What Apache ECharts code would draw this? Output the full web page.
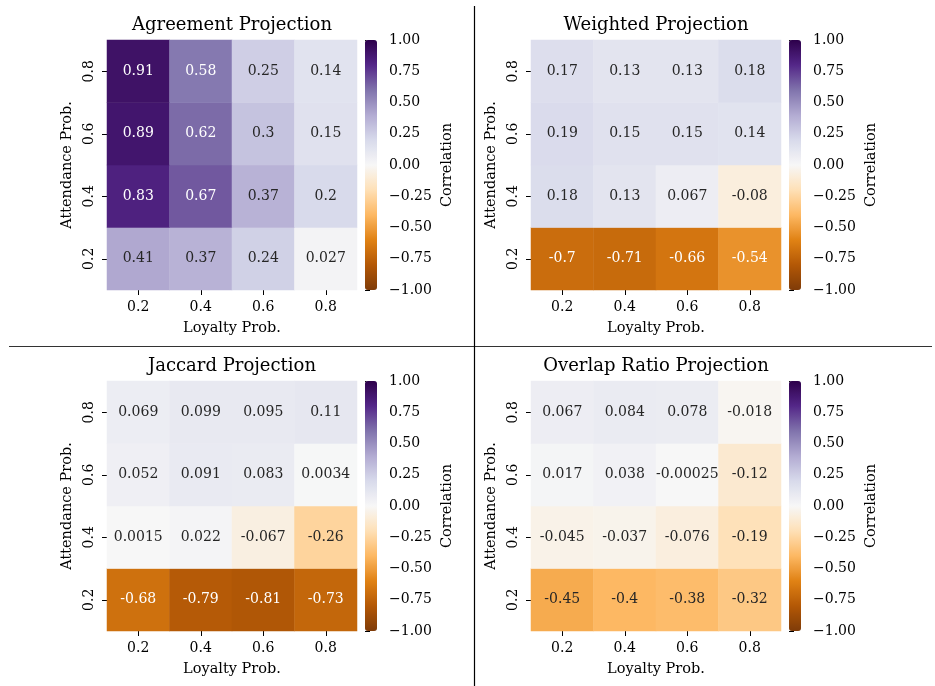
<!DOCTYPE html>
<html>
<head>
<meta charset="utf-8">
<script src="https://cdn.jsdelivr.net/npm/echarts@6/dist/echarts.min.js"></script>
<style>
  html, body { margin: 0; padding: 0; background: #fff; }
  #chart { width: 935px; height: 686px; }
</style>
</head>
<body>
<div id="chart"></div>
<script>
// Category labels
const loyalty = ['0.2', '0.4', '0.6', '0.8'];
const attendance = ['0.2', '0.4', '0.6', '0.8'];

// Correlations: one row per attendance probability (0.2 first), one column per loyalty probability
const agreement = [
  [0.41, 0.37, 0.24, 0.027],
  [0.83, 0.67, 0.37, 0.2],
  [0.89, 0.62, 0.3, 0.15],
  [0.91, 0.58, 0.25, 0.14]
];
const weighted = [
  [-0.7, -0.71, -0.66, -0.54],
  [0.18, 0.13, 0.067, -0.08],
  [0.19, 0.15, 0.15, 0.14],
  [0.17, 0.13, 0.13, 0.18]
];
const jaccard = [
  [-0.68, -0.79, -0.81, -0.73],
  [0.0015, 0.022, -0.067, -0.26],
  [0.052, 0.091, 0.083, 0.0034],
  [0.069, 0.099, 0.095, 0.11]
];
const overlap = [
  [-0.45, -0.4, -0.38, -0.32],
  [-0.045, -0.037, -0.076, -0.19],
  [0.017, 0.038, -0.00025, -0.12],
  [0.067, 0.084, 0.078, -0.018]
];

const titles = ['Agreement Projection', 'Weighted Projection', 'Jaccard Projection', 'Overlap Ratio Projection'];
const matrices = [agreement, weighted, jaccard, overlap];

// PuOr diverging palette, -1 (brown) to +1 (purple)
const puor = ['#7f3b08', '#b35806', '#e08214', '#fdb863', '#fee0b6', '#f7f7f7',
              '#d8daeb', '#b2abd2', '#8073ac', '#542788', '#2d004b'];

const FONT = 'DejaVu Serif';

function hexToRgb(h) {
  return [parseInt(h.slice(1, 3), 16), parseInt(h.slice(3, 5), 16), parseInt(h.slice(5, 7), 16)];
}
function colorAt(v) {
  const t = (Math.max(-1, Math.min(1, v)) + 1) / 2 * (puor.length - 1);
  const i = Math.min(Math.floor(t), puor.length - 2);
  const f = t - i;
  const a = hexToRgb(puor[i]), b = hexToRgb(puor[i + 1]);
  return a.map((c, k) => c + (b[k] - c) * f);
}
// Annotation colour chosen from the cell's luminance
function textColorFor(v) {
  const rgb = colorAt(v).map(c => {
    c = c / 255;
    return c <= 0.03928 ? c / 12.92 : Math.pow((c + 0.055) / 1.055, 2.4);
  });
  const lum = 0.2126 * rgb[0] + 0.7152 * rgb[1] + 0.0722 * rgb[2];
  return lum > 0.408 ? '#262626' : '#ffffff';
}

// Panel geometry (heatmap box and colorbar)
const lefts = [107, 531];
const tops = [40, 381];
const SIZE = 250;
const CB_OFFSET = 258;
const CB_WIDTH = 12;

const grid = [], xAxis = [], yAxis = [], series = [], visualMap = [], title = [];

matrices.forEach((m, p) => {
  const col = p % 2, row = Math.floor(p / 2);
  const L = lefts[col], T = tops[row];

  // heatmap grid
  grid.push({ left: L, top: T, width: SIZE, height: SIZE, outerBoundsMode: 'none', containLabel: false });
  const gi = grid.length - 1;
  xAxis.push({
    type: 'category', gridIndex: gi, data: loyalty,
    name: 'Loyalty Prob.', nameLocation: 'middle', nameGap: 31,
    nameTextStyle: { fontFamily: FONT, fontSize: 14.5, color: '#000' },
    axisLine: { show: false },
    axisTick: { show: true, alignWithLabel: true, length: 5, lineStyle: { color: '#000', width: 1 } },
    axisLabel: { fontFamily: FONT, fontSize: 14, color: '#000', margin: 10 },
    splitLine: { show: false }
  });
  yAxis.push({
    type: 'category', gridIndex: gi, data: attendance,
    name: 'Attendance Prob.', nameLocation: 'middle', nameGap: 32, nameRotate: 90,
    nameTextStyle: { fontFamily: FONT, fontSize: 14.5, color: '#000' },
    axisLine: { show: false },
    axisTick: { show: true, alignWithLabel: true, length: 5, lineStyle: { color: '#000', width: 1 } },
    axisLabel: { fontFamily: FONT, fontSize: 14, color: '#000', rotate: 90, margin: 11 },
    splitLine: { show: false }
  });
  const data = [];
  m.forEach((r, yi) => r.forEach((v, xi) => {
    data.push({ value: [xi, yi, v], label: { color: textColorFor(v) } });
  }));
  series.push({
    type: 'heatmap', xAxisIndex: gi, yAxisIndex: gi, data: data,
    label: { show: true, fontFamily: FONT, fontSize: 14, formatter: d => String(d.value[2]) },
    itemStyle: { borderWidth: 0 },
    emphasis: { disabled: true }
  });
  const si = series.length - 1;

  // colorbar gradient
  visualMap.push({
    type: 'continuous', seriesIndex: si, min: -1, max: 1, dimension: 2,
    calculable: false, hoverLink: false, text: null, showLabel: false,
    itemWidth: CB_WIDTH, itemHeight: SIZE, padding: 0,
    left: L + CB_OFFSET, top: T, orient: 'vertical',
    inRange: { color: puor }
  });

  // colorbar scale
  grid.push({ left: L + CB_OFFSET, top: T, width: CB_WIDTH, height: SIZE, outerBoundsMode: 'none', containLabel: false });
  const ci = grid.length - 1;
  xAxis.push({ type: 'value', gridIndex: ci, show: false, min: 0, max: 1 });
  yAxis.push({
    type: 'value', gridIndex: ci, position: 'right', min: -1, max: 1, interval: 0.25,
    name: 'Correlation', nameLocation: 'middle', nameGap: 63, nameRotate: 90,
    nameTextStyle: { fontFamily: FONT, fontSize: 14.5, color: '#000' },
    axisLine: { show: false },
    axisTick: { show: true, length: 5, lineStyle: { color: '#000', width: 1 } },
    axisLabel: {
      fontFamily: FONT, fontSize: 14, color: '#000', margin: 12,
      formatter: v => v.toFixed(2).replace('-', '\u2212')
    },
    splitLine: { show: false }
  });
  series.push({ type: 'scatter', xAxisIndex: ci, yAxisIndex: ci, data: [], silent: true });

  title.push({
    text: titles[p], left: L + SIZE / 2, top: T - 24, textAlign: 'center', padding: 0,
    textStyle: { fontFamily: FONT, fontSize: 18, fontWeight: 'normal', color: '#000' }
  });
});

const chart = echarts.init(document.getElementById('chart'), null, { renderer: 'canvas' });
chart.setOption({
  animation: false,
  backgroundColor: '#fff',
  title: title,
  grid: grid,
  xAxis: xAxis,
  yAxis: yAxis,
  visualMap: visualMap,
  series: series,
  graphic: [
    { type: 'line', shape: { x1: 9, y1: 346.5, x2: 932, y2: 346.5 }, style: { stroke: '#333', lineWidth: 1.2 }, silent: true },
    { type: 'line', shape: { x1: 474.5, y1: 6, x2: 474.5, y2: 686 }, style: { stroke: '#000', lineWidth: 1.2 }, silent: true }
  ]
});
</script>
</body>
</html>
